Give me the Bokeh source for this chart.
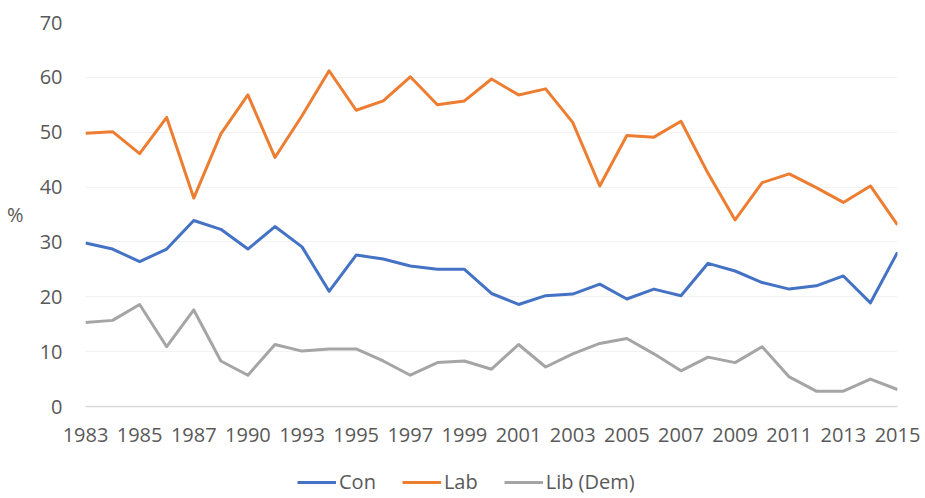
from bokeh.plotting import figure
from bokeh.models import Range1d, FixedTicker, Legend, LegendItem
from bokeh.layouts import column
from bokeh.embed import file_html
from bokeh.resources import INLINE

years = ["1983", "1984", "1985", "1986", "1987", "1989", "1990", "1991", "1993", "1994",
         "1995", "1996", "1997", "1998", "1999", "2000", "2001", "2002", "2003", "2004",
         "2005", "2006", "2007", "2008", "2009", "2010", "2011", "2012", "2013", "2014", "2015"]
con = [29.8, 28.7, 26.4, 28.7, 33.9, 32.3, 28.7, 32.8, 29.1, 21.0,
       27.6, 26.9, 25.6, 25.0, 25.0, 20.6, 18.6, 20.2, 20.5, 22.3,
       19.6, 21.4, 20.2, 26.1, 24.7, 22.6, 21.4, 22.0, 23.8, 18.9, 28.1]
lab = [49.8, 50.1, 46.1, 52.7, 38.0, 49.7, 56.8, 45.4, 53.0, 61.2,
       54.0, 55.7, 60.1, 55.0, 55.7, 59.7, 56.8, 57.9, 51.8, 40.2,
       49.4, 49.1, 52.0, 42.5, 34.0, 40.8, 42.4, 39.9, 37.2, 40.2, 33.1]
lib = [15.3, 15.7, 18.6, 10.9, 17.6, 8.3, 5.7, 11.3, 10.1, 10.5,
       10.5, 8.3, 5.7, 8.0, 8.3, 6.8, 11.3, 7.2, 9.6, 11.5,
       12.4, 9.6, 6.5, 9.0, 8.0, 10.9, 5.4, 2.8, 2.8, 5.0, 3.1]
series_names = ["Con", "Lab", "Lib (Dem)"]
series_colors = ["#4472C4", "#ED7D31", "#A5A5A5"]
y_ticks = [0, 10, 20, 30, 40, 50, 60, 70]

FONT = "Open Sans"
FS = "20px"
TXT = "#595959"
W = 921

xs = list(range(len(years)))
series = [con, lab, lib]

p = figure(width=W, height=456, output_backend="svg", toolbar_location=None,
           x_range=Range1d(0, len(years) - 1), y_range=Range1d(0, 70),
           min_border_left=85, min_border_right=24, min_border_top=22,
           min_border_bottom=50)
p.outline_line_color = None
p.background_fill_color = "white"
p.border_fill_color = "white"

for vals, col in zip(series, series_colors):
    p.line(xs, vals, line_color=col, line_width=3, line_join="round")

# x axis
xa = p.xaxis[0]
xa.ticker = FixedTicker(ticks=xs[::2])
xa.major_label_overrides = {i: years[i] for i in xs[::2]}
xa.major_tick_out = 0
xa.major_tick_in = 0
xa.minor_tick_out = 0
xa.minor_tick_in = 0
xa.axis_line_color = "#D9D9D9"
xa.axis_line_width = 1.5
xa.major_label_text_font = FONT
xa.major_label_text_font_size = FS
xa.major_label_text_color = TXT
xa.major_label_standoff = 21

# y axis
ya = p.yaxis[0]
ya.ticker = FixedTicker(ticks=y_ticks)
ya.axis_line_color = None
ya.major_tick_out = 0
ya.major_tick_in = 0
ya.minor_tick_out = 0
ya.minor_tick_in = 0
ya.major_label_text_font = FONT
ya.major_label_text_font_size = FS
ya.major_label_text_color = TXT
ya.major_label_standoff = 23
ya.axis_label = "%"
ya.axis_label_orientation = "horizontal"
ya.axis_label_text_font = FONT
ya.axis_label_text_font_size = FS
ya.axis_label_text_font_style = "normal"
ya.axis_label_text_color = TXT
ya.axis_label_standoff = 13

p.xgrid.grid_line_color = None
p.ygrid.grid_line_color = "#F2F2F2"
p.ygrid.grid_line_width = 1

# legend strip below the chart (series drawn off-screen so the legend has glyphs)
p2 = figure(width=W, height=40, output_backend="svg", toolbar_location=None,
            x_range=Range1d(0, len(years) - 1), y_range=Range1d(-200, -199),
            min_border=0, x_axis_location=None, y_axis_location=None)
p2.outline_line_color = None
p2.xgrid.grid_line_color = None
p2.ygrid.grid_line_color = None
items = []
for name, vals, col in zip(series_names, series, series_colors):
    r = p2.line(xs, vals, line_color=col, line_width=3)
    items.append(LegendItem(label=name, renderers=[r]))
legend = Legend(items=items, orientation="horizontal", location=(212, 1),
                glyph_width=39, glyph_height=16, label_standoff=3, spacing=26,
                padding=0, margin=0,
                label_text_font=FONT, label_text_font_size=FS, label_text_color=TXT,
                border_line_color=None, background_fill_alpha=0)
p2.add_layout(legend, "center")

open("out.html", "w").write(file_html(column(p, p2, spacing=0), INLINE))
